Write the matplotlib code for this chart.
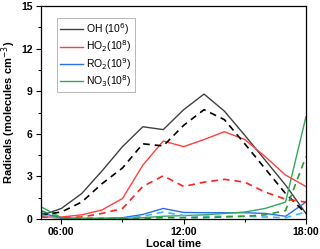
import matplotlib
matplotlib.use("Agg")
import matplotlib.pyplot as plt
from matplotlib.ticker import MultipleLocator

plt.rcParams['font.family'] = ['Liberation Sans', 'DejaVu Sans']

hours = [5, 6, 7, 8, 9, 10, 11, 12, 13, 14, 15, 16, 17, 18]

oh_solid = [0.25, 0.75, 1.8, 3.4, 5.1, 6.5, 6.3, 7.7, 8.8, 7.6, 5.9, 4.15, 2.4, 0.4]
oh_dash = [0.3, 0.5, 1.2, 2.5, 3.6, 5.3, 5.15, 6.6, 7.7, 7.0, 5.3, 3.55, 1.8, 0.4]
ho2_solid = [0.15, 0.15, 0.3, 0.65, 1.45, 3.8, 5.5, 5.1, 5.6, 6.15, 5.6, 4.4, 3.1, 2.3]
ho2_dash = [0.15, 0.1, 0.15, 0.4, 0.75, 2.3, 3.05, 2.3, 2.6, 2.8, 2.6, 1.9, 1.4, 1.2]
ro2_solid = [0.45, 0.05, 0.05, 0.05, 0.1, 0.33, 0.75, 0.47, 0.45, 0.45, 0.45, 0.4, 0.2, 1.2]
ro2_dash = [0.3, 0.05, 0.05, 0.05, 0.05, 0.2, 0.5, 0.25, 0.2, 0.2, 0.2, 0.15, 0.1, 0.5]
no3_solid = [0.87, 0.1, 0.05, 0.05, 0.05, 0.1, 0.2, 0.25, 0.3, 0.4, 0.5, 0.75, 1.2, 7.2]
no3_dash = [0.6, 0.05, 0.05, 0.05, 0.05, 0.05, 0.1, 0.1, 0.1, 0.15, 0.2, 0.3, 0.6, 4.4]

labels = ["OH (10$^6$)", "HO$_2$(10$^8$)", "RO$_2$(10$^9$)", "NO$_3$(10$^8$)"]
solid_colors = ['#404040', '#ff4040', '#2a6ff0', '#30a860']
dash_colors = ['#000000', '#ff2020', '#40b8f0', '#2f9a2f']

xticks = [6, 12, 18]
xticklabels = ["06:00", "12:00", "18:00"]
yticks = [0, 3, 6, 9, 12, 15]

fig = plt.figure(figsize=(3.2, 2.49), dpi=100)
ax = fig.add_axes([0.128, 0.12, 0.828, 0.856])

solids = [oh_solid, ho2_solid, ro2_solid, no3_solid]
dashes = [oh_dash, ho2_dash, ro2_dash, no3_dash]
for s, lab, c in zip(solids, labels, solid_colors):
    ax.plot(hours, s, color=c, lw=1.0, label=lab)
for d, c in zip(dashes, dash_colors):
    ax.plot(hours, d, color=c, lw=1.2, ls=(0, (4, 3)))

ax.set_xlim(5, 18)
ax.set_ylim(0, 15)
ax.set_xticks(xticks)
ax.set_xticklabels(xticklabels)
ax.set_yticks(yticks)
ax.xaxis.set_minor_locator(MultipleLocator(3))
ax.yaxis.set_minor_locator(MultipleLocator(1.5))
ax.tick_params(axis='both', which='major', direction='out', length=3.5, width=0.8, labelsize=7.5, pad=2.5)
ax.tick_params(axis='both', which='minor', direction='out', length=2, width=0.8)
for lbl in ax.get_xticklabels() + ax.get_yticklabels():
    lbl.set_fontweight('bold')
for sp in ax.spines.values():
    sp.set_linewidth(0.9)

ax.set_xlabel("Local time", fontsize=8, fontweight='bold', labelpad=1)
ax.set_ylabel("Radicals (molecules cm$^{-3}$)", fontsize=8, fontweight='bold', labelpad=2)

leg = ax.legend(loc='upper left', bbox_to_anchor=(0.06, 0.944), fontsize=7.5, frameon=True,
                fancybox=False, edgecolor='#999999', handlelength=2.2, handletextpad=0.3,
                labelspacing=0.15, borderpad=0.3, borderaxespad=0)
leg.get_frame().set_linewidth(0.6)

fig.savefig("out.png", dpi=100)
